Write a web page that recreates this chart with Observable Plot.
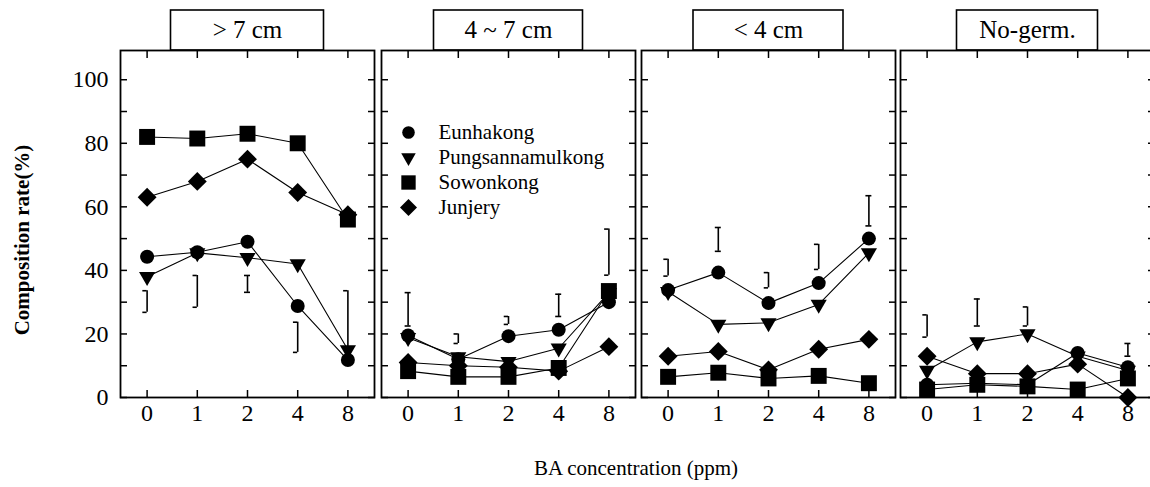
<!DOCTYPE html>
<html><head><meta charset="utf-8">
<script src="https://cdn.jsdelivr.net/npm/d3@7"></script>
<script src="https://cdn.jsdelivr.net/npm/@observablehq/plot@0.6"></script>
<style>
html,body{margin:0;padding:0;background:#fff;overflow:hidden;}
#chart{position:relative;width:1150px;height:487px;overflow:hidden;font-family:"Liberation Serif","Times New Roman",Times,Tinos,"DejaVu Serif",serif;}
#chart svg{position:absolute;top:0;overflow:visible;}
#xtitle{position:absolute;left:336px;width:600px;top:455px;text-align:center;font-size:21px;line-height:26px;color:#000;}
</style></head><body><div id="chart"></div>
<script>
// ---------- data ----------
const concentrations = ["0", "1", "2", "4", "8"];
const panelTitles = ["> 7 cm", "4 ~ 7 cm", "< 4 cm", "No-germ."];
const cultivars = ["Eunhakong", "Pungsannamulkong", "Sowonkong", "Junjery"];
const yTickLabels = [0, 20, 40, 60, 80, 100];
const yTicksAll = [0, 10, 20, 30, 40, 50, 60, 70, 80, 90, 100];
const xTitle = "BA concentration (ppm)";
const yTitle = "Composition rate(%)";

// values per panel (>7, 4~7, <4, No-germ.), per concentration
const eunhakong = [
  [44.3, 45.7, 49, 28.8, 11.8],
  [19.5, 12, 19.3, 21.3, 30],
  [33.8, 39.3, 29.7, 36, 50],
  [4, 4.5, 4, 14, 9.5]
];
const pungsannamulkong = [
  [38, 45.5, 44, 42, 15],
  [18.8, 12.8, 11.3, 15.5, 33],
  [33.3, 23, 23.5, 29.3, 45.5],
  [8.5, 17.5, 20, 13, 8.5]
];
const sowonkong = [
  [82, 81.5, 83, 80, 56],
  [8.3, 6.5, 6.5, 9.3, 33.5],
  [6.5, 7.8, 6, 6.8, 4.5],
  [2.5, 4, 3.5, 2.5, 6]
];
const junjery = [
  [63, 68, 75, 64.5, 57.5],
  [11, 10, 9.5, 8.3, 16],
  [13, 14.5, 8.7, 15.2, 18.3],
  [13, 7.5, 7.5, 10.5, 0]
];
// error bars (low, high) per panel and concentration
const errLow = [
  [26.8, 28.4, 33.1, 14.2, 15.8],
  [22.5, 17, 23, 25.5, 38.5],
  [38.2, 46, 34.5, 40.3, 54],
  [19, 22.5, 22.5, null, 13]
];
const errHigh = [
  [33.6, 38.4, 38.4, 23.7, 33.6],
  [33, 20, 25.5, 32.5, 53],
  [43.5, 53.5, 39.3, 48.2, 63.5],
  [26, 31, 28.5, null, 17]
];
const errShape = [
  ["]", "]", "I", "]", "]"],
  ["I", "]", "]", "I", "]"],
  ["]", "I", "]", "]", "I"],
  ["]", "I", "]", null, "I"]
];

// ---------- styles / layout ----------
const seriesValues = [eunhakong, pungsannamulkong, sowonkong, junjery];
const markerStyle = [
  {symbol: "circle", r: 7, rotate: 0},
  {symbol: "triangle", r: 6, rotate: 180},
  {symbol: "square", r: 9, rotate: 0},
  {symbol: "diamond2", r: 8.5, rotate: 0}
];
const panelLeft = [120, 381, 641, 900];
const panelW = 254;
const boxW = [153, 149, 150, 141];
const font = '"Liberation Serif", "Times New Roman", Times, Tinos, "DejaVu Serif", serif';

const chart = document.getElementById("chart");

function makePanel(p) {
  const first = p === 0;
  const ml = first ? 120 : 4, mr = 4;
  const rows = [];
  cultivars.forEach((c, k) => seriesValues[k][p].forEach((v, i) => rows.push({cultivar: c, k, i, value: v})));
  const errs = [];
  const caps = [];
  const capW = 0.085;
  errLow[p].forEach((lo, i) => {
    if (lo == null) return;
    const hi = errHigh[p][i];
    errs.push({i, lo, hi});
    const s = errShape[p][i];
    const a = s === "I" ? i - capW * 0.7 : i - capW;
    const b = s === "I" ? i + capW * 0.7 : i;
    caps.push({y: lo, a, b}, {y: hi, a, b});
  });

  const marks = [
    Plot.frame({stroke: "black", strokeWidth: 1.8}),
    Plot.axisY({anchor: "left", ticks: yTicksAll, tickSize: 7, dx: 7, tickFormat: () => "", label: null, strokeWidth: 1.5}),
    Plot.axisY({anchor: "right", ticks: yTicksAll, tickSize: 7, dx: -7, tickFormat: () => "", label: null, strokeWidth: 1.5}),
    Plot.axisX({anchor: "bottom", ticks: [0, 1, 2, 3, 4], tickSize: 7, dy: -7, tickFormat: () => "", label: null, strokeWidth: 1.5}),
    Plot.axisX({anchor: "top", ticks: [0, 1, 2, 3, 4], tickSize: 7, dy: 7, tickFormat: () => "", label: null, strokeWidth: 1.5}),
    Plot.axisX({anchor: "bottom", ticks: [0, 1, 2, 3, 4], tickSize: 0, tickPadding: 6, tickFormat: i => concentrations[i], label: null, fontSize: 24}),
    Plot.line(rows, {x: "i", y: "value", z: "cultivar", stroke: "black", strokeWidth: 1.1}),
    Plot.ruleX(errs, {x: "i", y1: "lo", y2: "hi", stroke: "black", strokeWidth: 1.6}),
    Plot.ruleY(caps, {y: "y", x1: "a", x2: "b", stroke: "black", strokeWidth: 1.6})
  ];
  cultivars.forEach((c, k) => {
    const st = markerStyle[k];
    marks.push(Plot.dot(rows.filter(d => d.k === k), {x: "i", y: "value", symbol: () => st.symbol, r: st.r, rotate: st.rotate, fill: "black", stroke: "none"}));
  });
  if (first) {
    marks.push(Plot.axisY({anchor: "left", ticks: yTickLabels, tickSize: 0, tickPadding: 12, label: null, fontSize: 24}));
    marks.push(Plot.text([yTitle], {text: d => d, frameAnchor: "left", dx: -98, dy: 16, rotate: -90, textAnchor: "middle", lineAnchor: "middle", fontWeight: "bold", fontSize: 21}));
  }
  if (p === 1) {
    cultivars.forEach((c, k) => {
      const st = markerStyle[k];
      marks.push(Plot.dot([c], {frameAnchor: "top-left", dx: 27, dy: 82 + 25 * k, symbol: () => st.symbol, r: st.r * 0.9, rotate: st.rotate, fill: "black"}));
      marks.push(Plot.text([c], {text: d => d, frameAnchor: "top-left", dx: 57, dy: 82 + 25 * k, textAnchor: "start", lineAnchor: "middle", fontSize: 21}));
    });
  }
  marks.push(Plot.text([panelTitles[p]], {text: d => d, frameAnchor: "top", dy: -21, textAnchor: "middle", lineAnchor: "middle", fontSize: 25}));

  const svg = Plot.plot({
    width: ml + panelW + mr,
    height: 487,
    marginLeft: ml, marginRight: mr, marginTop: 50, marginBottom: 90,
    x: {type: "linear", domain: [-0.53, 4.53], axis: null},
    y: {domain: [0, 109.2], axis: null},
    style: {fontFamily: font, fontSize: "22px", background: "transparent", overflow: "visible", color: "black"},
    marks
  });
  // title box
  d3.select(svg).append("rect")
    .attr("x", ml + panelW / 2 - boxW[p] / 2).attr("y", 10)
    .attr("width", boxW[p]).attr("height", 40)
    .attr("fill", "none").attr("stroke", "black").attr("stroke-width", 1.6);
  d3.select(svg).selectAll("text").style("font-family", font);
  svg.style.left = (panelLeft[p] - ml) + "px";
  chart.appendChild(svg);
}

for (let p = 0; p < 4; p++) makePanel(p);
const xt = document.createElement("div");
xt.id = "xtitle";
xt.textContent = xTitle;
chart.appendChild(xt);
</script>
</body></html>
